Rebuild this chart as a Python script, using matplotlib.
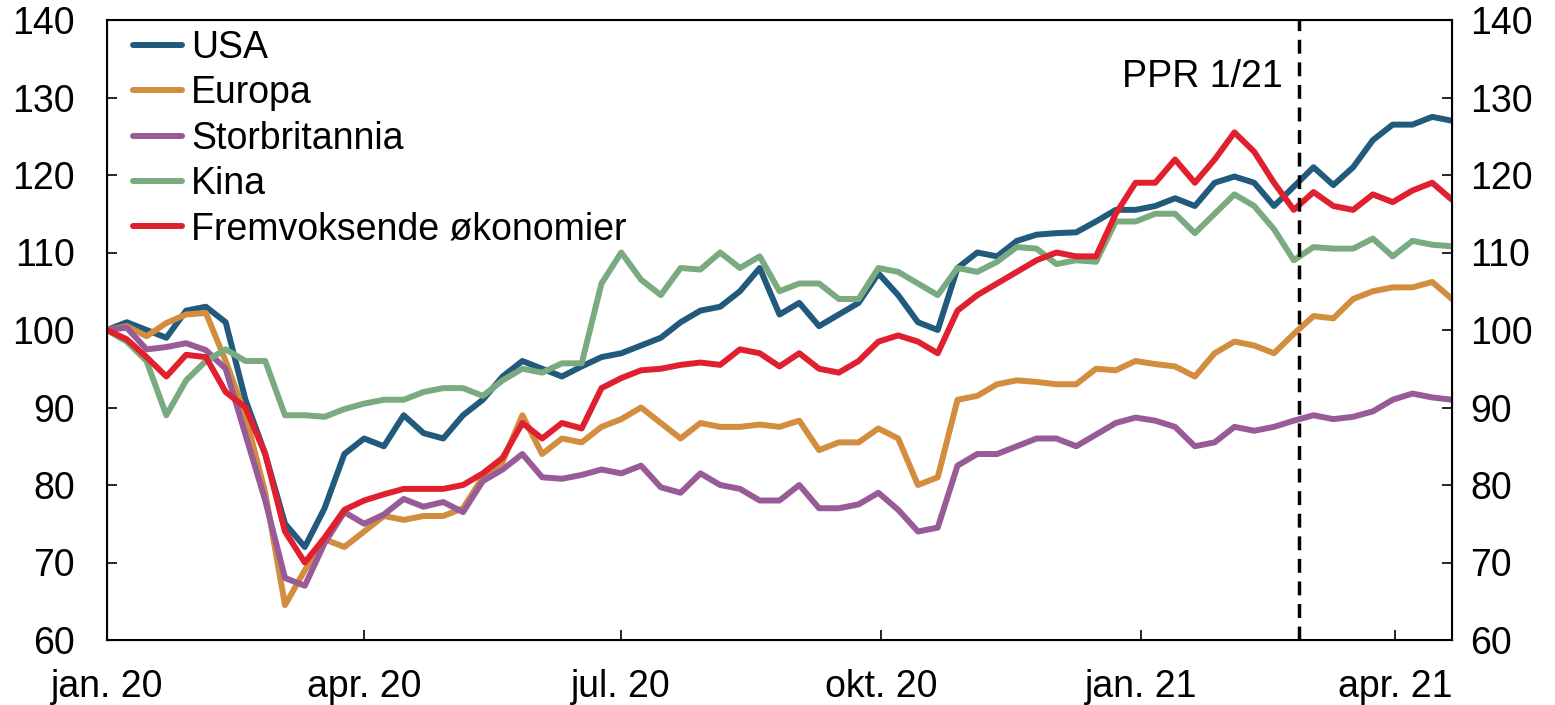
import numpy as np
import pandas as pd
import matplotlib
matplotlib.use("Agg")
import matplotlib.pyplot as plt

plt.rcParams["font.family"] = ["Liberation Sans", "DejaVu Sans"]

# Weekly observations, 1 Jan 2020 - 21 Apr 2021 (index, 1 Jan 2020 = 100)
dates = pd.date_range("2020-01-01", periods=69, freq="7D")

usa = [100, 101, 100, 99, 102.5, 103, 101, 91, 84, 75, 72, 77, 84, 86,
       85, 89, 86.7, 86, 89, 91, 94, 96, 95, 94, 95.3, 96.5, 97, 98,
       99, 101, 102.5, 103, 105, 108, 102, 103.5, 100.5, 102, 103.5, 107.3,
       104.5, 101, 100, 108, 110, 109.5, 111.5, 112.3, 112.5, 112.6, 114,
       115.5, 115.5, 116, 117, 116, 119, 119.8, 119, 116, 118.5, 121, 118.7,
       121, 124.5, 126.5, 126.5, 127.5, 127]
europa = [100, 100.5, 99.2, 100.9, 102, 102.2, 96, 89, 79, 64.5, 69, 73, 72, 74,
          76, 75.5, 76, 76, 77, 81, 83, 89, 84, 86, 85.5, 87.5, 88.5, 90,
          88, 86, 88, 87.5, 87.5, 87.8, 87.5, 88.3, 84.5, 85.5, 85.5, 87.3,
          86, 80, 81, 91, 91.5, 93, 93.5, 93.3, 93, 93, 95,
          94.8, 96, 95.6, 95.3, 94, 97, 98.5, 98, 97, 99.5, 101.8, 101.5,
          104, 105, 105.5, 105.5, 106.2, 104]
storbritannia = [100, 100.3, 97.5, 97.8, 98.3, 97.4, 95, 86.5, 78, 68, 67, 72.5, 76.5, 75,
                 76.2, 78.2, 77.2, 77.8, 76.5, 80.5, 82, 84, 81, 80.8, 81.3, 82, 81.5, 82.5,
                 79.7, 79, 81.5, 80, 79.5, 78, 78, 80, 77, 77, 77.5, 79,
                 76.8, 74, 74.5, 82.5, 84, 84, 85, 86, 86, 85, 86.5,
                 88, 88.7, 88.3, 87.5, 85, 85.5, 87.5, 87, 87.5, 88.3, 89, 88.5,
                 88.8, 89.5, 91, 91.8, 91.3, 91]
kina = [100, 98.5, 96, 89, 93.5, 96, 97.5, 96, 96, 89, 89, 88.8, 89.8, 90.5,
        91, 91, 92, 92.5, 92.5, 91.5, 93.5, 95, 94.5, 95.7, 95.7, 106, 110, 106.5,
        104.5, 108, 107.8, 110, 108, 109.5, 105, 106, 106, 104, 104, 108,
        107.5, 106, 104.5, 108, 107.5, 108.8, 110.7, 110.5, 108.5, 109, 108.8,
        114, 114, 115, 115, 112.5, 115, 117.5, 116, 113, 109, 110.7, 110.5,
        110.5, 111.8, 109.5, 111.5, 111, 110.8]
fremvoksende = [100, 98.8, 96.5, 94, 96.8, 96.5, 92, 90, 84, 74, 70, 73.2, 76.8, 78,
                78.8, 79.5, 79.5, 79.5, 80, 81.5, 83.5, 88, 86, 88, 87.3, 92.5, 93.8, 94.8,
                95, 95.5, 95.8, 95.5, 97.5, 97, 95.3, 97, 95, 94.5, 96, 98.5,
                99.3, 98.5, 97, 102.5, 104.5, 106, 107.5, 109, 110, 109.5, 109.5,
                115, 119, 119, 122, 119, 122, 125.5, 123, 119, 115.5, 117.8, 116,
                115.5, 117.5, 116.5, 118, 119, 116.8]

series = [
    ("USA", usa, "#215a7c"),
    ("Europa", europa, "#d38d3f"),
    ("Storbritannia", storbritannia, "#985b98"),
    ("Kina", kina, "#7aaa7f"),
    ("Fremvoksende økonomier", fremvoksende, "#e0202e"),
]

ppr_date = pd.Timestamp("2021-02-26")
tick_dates = pd.to_datetime(["2020-01-01", "2020-04-01", "2020-07-01",
                             "2020-10-01", "2021-01-01", "2021-04-01"])
tick_labels = ["jan. 20", "apr. 20", "jul. 20", "okt. 20", "jan. 21", "apr. 21"]
y_ticks = [60, 70, 80, 90, 100, 110, 120, 130, 140]

fs = 27
fig = plt.figure(figsize=(15.55, 7.05), dpi=100)
ax = fig.add_axes([107 / 1555, 65 / 705, 1345 / 1555, 620 / 705])

for name, values, color in series:
    ax.plot(dates, values, color=color, linewidth=4.3, label=name,
            solid_joinstyle="round", solid_capstyle="round")

ax.axvline(ppr_date, color="black", linewidth=2.5, linestyle=(0, (4, 2.5)))
ax.text(ppr_date - pd.Timedelta(days=6), 132.6, "PPR 1/21", ha="right",
        va="center", fontsize=fs)

ax.set_xlim(dates[0], dates[-1])
ax.set_ylim(60, 140)
ax.set_yticks(y_ticks)
ax.set_xticks(tick_dates)
ax.set_xticklabels(tick_labels)
ax.tick_params(axis="x", direction="in", length=7, width=1.2, labelsize=fs, pad=21)
ax.tick_params(axis="y", direction="in", length=7, width=1.2, labelsize=fs, pad=23)
for sp in ax.spines.values():
    sp.set_linewidth(1.5)

ax2 = ax.twinx()
ax2.set_ylim(60, 140)
ax2.set_yticks(y_ticks)
ax2.tick_params(axis="y", direction="in", length=7, width=1.2, labelsize=fs, pad=13)

leg = ax.legend(loc="upper left", bbox_to_anchor=(0.0193, 0.984), frameon=False,
                fontsize=fs, handlelength=1.3, handletextpad=0.25,
                labelspacing=0.25, borderpad=0, borderaxespad=0)
for line in leg.get_lines():
    line.set_linewidth(4.3)

fig.savefig("out.png", dpi=100)
